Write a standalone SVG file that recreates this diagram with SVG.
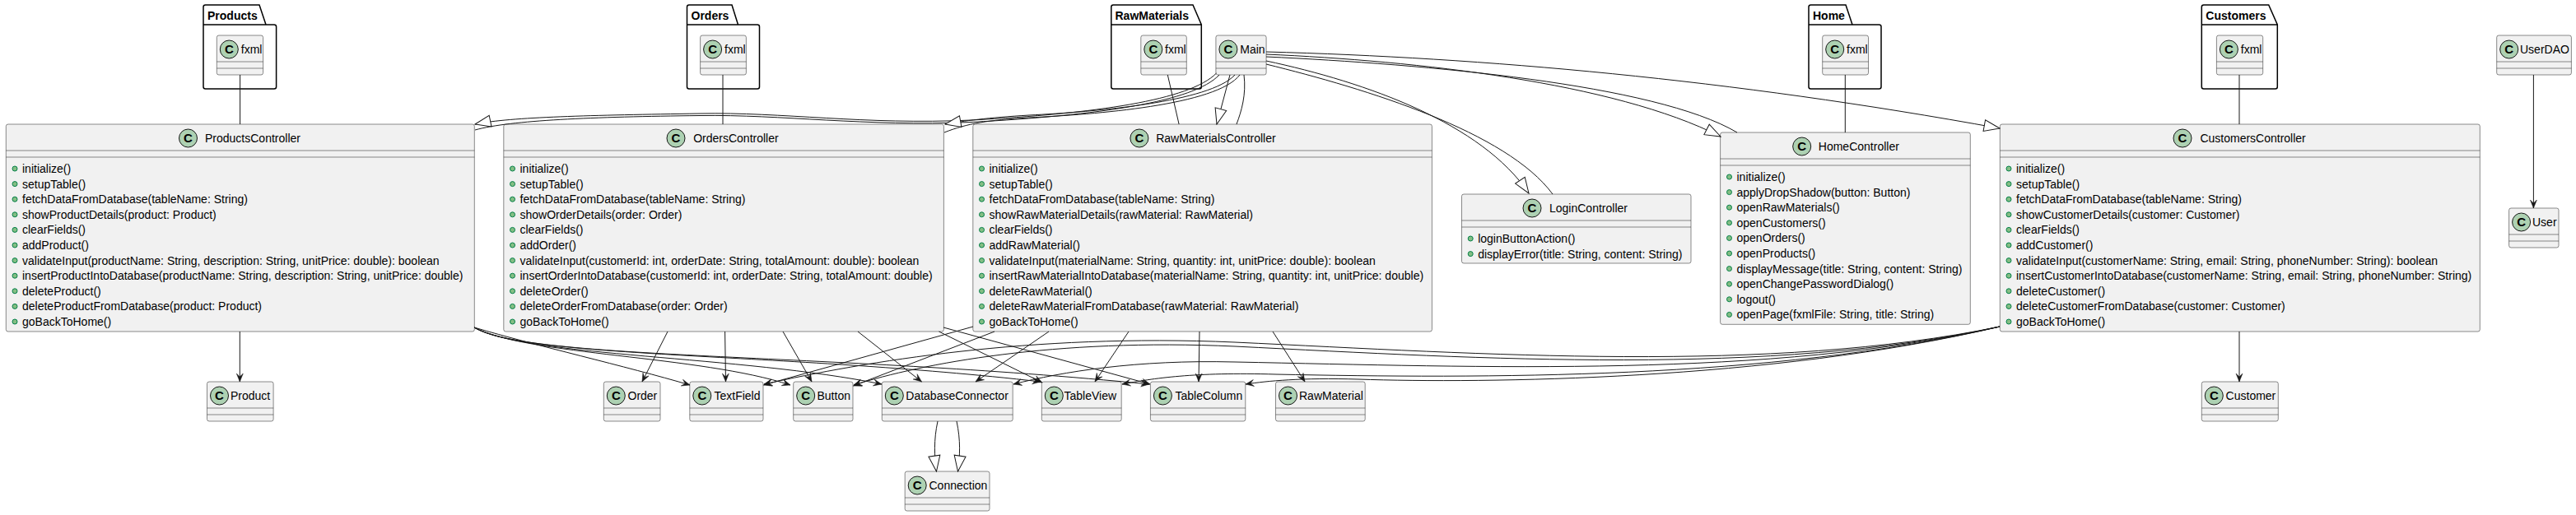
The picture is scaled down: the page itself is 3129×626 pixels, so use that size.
<svg xmlns="http://www.w3.org/2000/svg" width="3129" height="626" viewBox="0 0 3129 626">
<style>
text{font-family:'Liberation Sans',Arial,sans-serif;font-size:14px;fill:#000}
.box{fill:#F1F1F1;stroke:#181818;stroke-width:0.5}
.sep{stroke:#181818;stroke-width:0.5}
.ci{fill:#ADD1B2;stroke:#181818;stroke-width:1}
.C{font-weight:bold;font-size:15px;text-anchor:middle}
.bul{fill:#84BE84;stroke:#038048;stroke-width:1}
.pkg{fill:none;stroke:#000;stroke-width:1.5}
.pn{font-weight:bold}
.e{fill:none;stroke:#181818;stroke-width:1}
.d{marker-end:url(#dep)}
.x{marker-end:url(#ext)}
</style>
<defs>
<marker id="dep" viewBox="-11 -5 12 10" refX="0" refY="0" markerWidth="12" markerHeight="10" orient="auto" markerUnits="userSpaceOnUse"><path d="M0,0 L-10,-4 L-6,0 L-10,4 Z" fill="#181818" stroke="#181818" stroke-width="0.5"/></marker>
<marker id="ext" viewBox="-20 -9 21 18" refX="0" refY="0" markerWidth="21" markerHeight="18" orient="auto" markerUnits="userSpaceOnUse"><path d="M0,0 L-19,-7 L-19,7 Z" fill="#FFFFFF" stroke="#181818" stroke-width="1"/></marker>
</defs>
<rect width="3129" height="626" fill="#FFFFFF"/>

<!-- packages -->
<g id="pkg-Products">
<path class="pkg" d="M247,8.5 Q247,6 249.5,6 L315,6 L323,30 L333,30 Q335.6,30 335.6,32.5 L335.6,105.5 Q335.6,108 333,108 L249.5,108 Q247,108 247,105.5 Z M247,30 L323,30"/>
<text class="pn" x="252" y="23.5">Products</text>
</g>
<g id="pkg-Orders">
<path class="pkg" d="M834.5,8.5 Q834.5,6 837,6 L889,6 L896.5,30 L920,30 Q922.5,30 922.5,32.5 L922.5,105.5 Q922.5,108 920,108 L837,108 Q834.5,108 834.5,105.5 Z M834.5,30 L896.5,30"/>
<text class="pn" x="839.5" y="23.5">Orders</text>
</g>
<g id="pkg-RawMaterials">
<path class="pkg" d="M1349.8,8.5 Q1349.8,6 1352.3,6 L1449,6 L1459.3,30 L1459.3,105.5 Q1459.3,108 1456.8,108 L1352.3,108 Q1349.8,108 1349.8,105.5 Z M1349.8,30 L1459.3,30"/>
<text class="pn" x="1354.5" y="23.5">RawMaterials</text>
</g>
<g id="pkg-Home">
<path class="pkg" d="M2197,8.5 Q2197,6 2199.5,6 L2242,6 L2250,30 L2282.5,30 Q2285,30 2285,32.5 L2285,105.5 Q2285,108 2282.5,108 L2199.5,108 Q2197,108 2197,105.5 Z M2197,30 L2250,30"/>
<text class="pn" x="2202" y="23.5">Home</text>
</g>
<g id="pkg-Customers">
<path class="pkg" d="M2674.3,8.5 Q2674.3,6 2676.8,6 L2755.7,6 L2766.3,30 L2766.3,105.5 Q2766.3,108 2763.8,108 L2676.8,108 Q2674.3,108 2674.3,105.5 Z M2674.3,30 L2766.3,30"/>
<text class="pn" x="2679.3" y="23.5">Customers</text>
</g>

<!-- small top classes -->
<g id="Products.fxml"><rect class="box" x="263.3" y="43" width="56.3" height="48" rx="2.5"/><circle class="ci" cx="278.3" cy="60" r="11"/><text class="C" x="278.3" y="65.3">C</text><text x="292.8" y="65">fxml</text><path class="sep" d="M263.3,75 H319.6 M263.3,83 H319.6"/></g>
<g id="Orders.fxml"><rect class="box" x="850.6" y="43" width="55.8" height="48" rx="2.5"/><circle class="ci" cx="865.6" cy="60" r="11"/><text class="C" x="865.6" y="65.3">C</text><text x="880" y="65">fxml</text><path class="sep" d="M850.6,75 H906.4 M850.6,83 H906.4"/></g>
<g id="RawMaterials.fxml"><rect class="box" x="1385.8" y="43" width="55.5" height="48" rx="2.5"/><circle class="ci" cx="1400.8" cy="60" r="11"/><text class="C" x="1400.8" y="65.3">C</text><text x="1415" y="65">fxml</text><path class="sep" d="M1385.8,75 H1441.3 M1385.8,83 H1441.3"/></g>
<g id="Main"><rect class="box" x="1476.9" y="43" width="61.2" height="48" rx="2.5"/><circle class="ci" cx="1491.9" cy="60" r="11"/><text class="C" x="1491.9" y="65.3">C</text><text x="1506.3" y="65">Main</text><path class="sep" d="M1476.9,75 H1538.1 M1476.9,83 H1538.1"/></g>
<g id="Home.fxml"><rect class="box" x="2213.7" y="43" width="55.8" height="48" rx="2.5"/><circle class="ci" cx="2228.7" cy="60" r="11"/><text class="C" x="2228.7" y="65.3">C</text><text x="2243" y="65">fxml</text><path class="sep" d="M2213.7,75 H2269.5 M2213.7,83 H2269.5"/></g>
<g id="Customers.fxml"><rect class="box" x="2692.4" y="43" width="56.3" height="48" rx="2.5"/><circle class="ci" cx="2707.4" cy="60" r="11"/><text class="C" x="2707.4" y="65.3">C</text><text x="2721.8" y="65">fxml</text><path class="sep" d="M2692.4,75 H2748.7 M2692.4,83 H2748.7"/></g>
<g id="UserDAO"><rect class="box" x="3032.7" y="43" width="90.7" height="48" rx="2.5"/><circle class="ci" cx="3047.7" cy="60" r="11"/><text class="C" x="3047.7" y="65.3">C</text><text x="3061" y="65">UserDAO</text><path class="sep" d="M3032.7,75 H3123.4 M3032.7,83 H3123.4"/></g>
<g id="User"><rect class="box" x="3047.6" y="253" width="60.4" height="48" rx="2.5"/><circle class="ci" cx="3062.6" cy="270" r="11"/><text class="C" x="3062.6" y="275.3">C</text><text x="3076" y="275">User</text><path class="sep" d="M3047.6,285 H3108 M3047.6,293 H3108"/></g>

<!-- ProductsController -->
<g id="ProductsController">
<rect class="box" x="7.3" y="151" width="569" height="252" rx="2.5"/>
<circle class="ci" cx="228.5" cy="168" r="11"/><text class="C" x="228.5" y="173.3">C</text>
<text x="249" y="173">ProductsController</text>
<path class="sep" d="M7.3,183 H576.3 M7.3,191 H576.3"/>
<g><circle class="bul" cx="18" cy="205" r="3"/><circle class="bul" cx="18" cy="223.6" r="3"/><circle class="bul" cx="18" cy="242.2" r="3"/><circle class="bul" cx="18" cy="260.8" r="3"/><circle class="bul" cx="18" cy="279.4" r="3"/><circle class="bul" cx="18" cy="298" r="3"/><circle class="bul" cx="18" cy="316.6" r="3"/><circle class="bul" cx="18" cy="335.2" r="3"/><circle class="bul" cx="18" cy="353.8" r="3"/><circle class="bul" cx="18" cy="372.4" r="3"/><circle class="bul" cx="18" cy="391" r="3"/></g>
<text x="27" y="210">initialize()</text>
<text x="27" y="228.6">setupTable()</text>
<text x="27" y="247.2">fetchDataFromDatabase(tableName: String)</text>
<text x="27" y="265.8">showProductDetails(product: Product)</text>
<text x="27" y="284.4">clearFields()</text>
<text x="27" y="303">addProduct()</text>
<text x="27" y="321.6">validateInput(productName: String, description: String, unitPrice: double): boolean</text>
<text x="27" y="340.2">insertProductIntoDatabase(productName: String, description: String, unitPrice: double)</text>
<text x="27" y="358.8">deleteProduct()</text>
<text x="27" y="377.4">deleteProductFromDatabase(product: Product)</text>
<text x="27" y="396">goBackToHome()</text>
</g>

<!-- OrdersController -->
<g id="OrdersController">
<rect class="box" x="611.8" y="151" width="534.6" height="252" rx="2.5"/>
<circle class="ci" cx="821" cy="168" r="11"/><text class="C" x="821" y="173.3">C</text>
<text x="842.2" y="173">OrdersController</text>
<path class="sep" d="M611.8,183 H1146.4 M611.8,191 H1146.4"/>
<g><circle class="bul" cx="622.5" cy="205" r="3"/><circle class="bul" cx="622.5" cy="223.6" r="3"/><circle class="bul" cx="622.5" cy="242.2" r="3"/><circle class="bul" cx="622.5" cy="260.8" r="3"/><circle class="bul" cx="622.5" cy="279.4" r="3"/><circle class="bul" cx="622.5" cy="298" r="3"/><circle class="bul" cx="622.5" cy="316.6" r="3"/><circle class="bul" cx="622.5" cy="335.2" r="3"/><circle class="bul" cx="622.5" cy="353.8" r="3"/><circle class="bul" cx="622.5" cy="372.4" r="3"/><circle class="bul" cx="622.5" cy="391" r="3"/></g>
<text x="631.5" y="210">initialize()</text>
<text x="631.5" y="228.6">setupTable()</text>
<text x="631.5" y="247.2">fetchDataFromDatabase(tableName: String)</text>
<text x="631.5" y="265.8">showOrderDetails(order: Order)</text>
<text x="631.5" y="284.4">clearFields()</text>
<text x="631.5" y="303">addOrder()</text>
<text x="631.5" y="321.6">validateInput(customerId: int, orderDate: String, totalAmount: double): boolean</text>
<text x="631.5" y="340.2">insertOrderIntoDatabase(customerId: int, orderDate: String, totalAmount: double)</text>
<text x="631.5" y="358.8">deleteOrder()</text>
<text x="631.5" y="377.4">deleteOrderFromDatabase(order: Order)</text>
<text x="631.5" y="396">goBackToHome()</text>
</g>

<!-- RawMaterialsController -->
<g id="RawMaterialsController">
<rect class="box" x="1181.8" y="151" width="557.6" height="252" rx="2.5"/>
<circle class="ci" cx="1383.9" cy="168" r="11"/><text class="C" x="1383.9" y="173.3">C</text>
<text x="1404.2" y="173">RawMaterialsController</text>
<path class="sep" d="M1181.8,183 H1739.4 M1181.8,191 H1739.4"/>
<g><circle class="bul" cx="1192.5" cy="205" r="3"/><circle class="bul" cx="1192.5" cy="223.6" r="3"/><circle class="bul" cx="1192.5" cy="242.2" r="3"/><circle class="bul" cx="1192.5" cy="260.8" r="3"/><circle class="bul" cx="1192.5" cy="279.4" r="3"/><circle class="bul" cx="1192.5" cy="298" r="3"/><circle class="bul" cx="1192.5" cy="316.6" r="3"/><circle class="bul" cx="1192.5" cy="335.2" r="3"/><circle class="bul" cx="1192.5" cy="353.8" r="3"/><circle class="bul" cx="1192.5" cy="372.4" r="3"/><circle class="bul" cx="1192.5" cy="391" r="3"/></g>
<text x="1201.5" y="210">initialize()</text>
<text x="1201.5" y="228.6">setupTable()</text>
<text x="1201.5" y="247.2">fetchDataFromDatabase(tableName: String)</text>
<text x="1201.5" y="265.8">showRawMaterialDetails(rawMaterial: RawMaterial)</text>
<text x="1201.5" y="284.4">clearFields()</text>
<text x="1201.5" y="303">addRawMaterial()</text>
<text x="1201.5" y="321.6">validateInput(materialName: String, quantity: int, unitPrice: double): boolean</text>
<text x="1201.5" y="340.2">insertRawMaterialIntoDatabase(materialName: String, quantity: int, unitPrice: double)</text>
<text x="1201.5" y="358.8">deleteRawMaterial()</text>
<text x="1201.5" y="377.4">deleteRawMaterialFromDatabase(rawMaterial: RawMaterial)</text>
<text x="1201.5" y="396">goBackToHome()</text>
</g>

<!-- LoginController -->
<g id="LoginController">
<rect class="box" x="1775.5" y="236" width="278.5" height="84" rx="2.5"/>
<circle class="ci" cx="1861" cy="253" r="11"/><text class="C" x="1861" y="258.3">C</text>
<text x="1882" y="258">LoginController</text>
<path class="sep" d="M1775.5,268 H2054 M1775.5,276 H2054"/>
<circle class="bul" cx="1786.2" cy="290" r="3"/><circle class="bul" cx="1786.2" cy="308.6" r="3"/>
<text x="1795.2" y="295">loginButtonAction()</text>
<text x="1795.2" y="313.6">displayError(title: String, content: String)</text>
</g>

<!-- HomeController -->
<g id="HomeController">
<rect class="box" x="2089.6" y="161" width="303.7" height="233.3" rx="2.5"/>
<circle class="ci" cx="2188.7" cy="178" r="11"/><text class="C" x="2188.7" y="183.3">C</text>
<text x="2208.8" y="183">HomeController</text>
<path class="sep" d="M2089.6,193 H2393.3 M2089.6,201 H2393.3"/>
<g><circle class="bul" cx="2100.5" cy="215" r="3"/><circle class="bul" cx="2100.5" cy="233.6" r="3"/><circle class="bul" cx="2100.5" cy="252.2" r="3"/><circle class="bul" cx="2100.5" cy="270.8" r="3"/><circle class="bul" cx="2100.5" cy="289.4" r="3"/><circle class="bul" cx="2100.5" cy="308" r="3"/><circle class="bul" cx="2100.5" cy="326.6" r="3"/><circle class="bul" cx="2100.5" cy="345.2" r="3"/><circle class="bul" cx="2100.5" cy="363.8" r="3"/><circle class="bul" cx="2100.5" cy="382.4" r="3"/></g>
<text x="2109.5" y="220">initialize()</text>
<text x="2109.5" y="238.6">applyDropShadow(button: Button)</text>
<text x="2109.5" y="257.2">openRawMaterials()</text>
<text x="2109.5" y="275.8">openCustomers()</text>
<text x="2109.5" y="294.4">openOrders()</text>
<text x="2109.5" y="313">openProducts()</text>
<text x="2109.5" y="331.6">displayMessage(title: String, content: String)</text>
<text x="2109.5" y="350.2">openChangePasswordDialog()</text>
<text x="2109.5" y="368.8">logout()</text>
<text x="2109.5" y="387.4">openPage(fxmlFile: String, title: String)</text>
</g>

<!-- CustomersController -->
<g id="CustomersController">
<rect class="box" x="2429.3" y="151" width="583" height="252" rx="2.5"/>
<circle class="ci" cx="2651" cy="168" r="11"/><text class="C" x="2651" y="173.3">C</text>
<text x="2672.4" y="173">CustomersController</text>
<path class="sep" d="M2429.3,183 H3012.3 M2429.3,191 H3012.3"/>
<g><circle class="bul" cx="2440" cy="205" r="3"/><circle class="bul" cx="2440" cy="223.6" r="3"/><circle class="bul" cx="2440" cy="242.2" r="3"/><circle class="bul" cx="2440" cy="260.8" r="3"/><circle class="bul" cx="2440" cy="279.4" r="3"/><circle class="bul" cx="2440" cy="298" r="3"/><circle class="bul" cx="2440" cy="316.6" r="3"/><circle class="bul" cx="2440" cy="335.2" r="3"/><circle class="bul" cx="2440" cy="353.8" r="3"/><circle class="bul" cx="2440" cy="372.4" r="3"/><circle class="bul" cx="2440" cy="391" r="3"/></g>
<text x="2449" y="210">initialize()</text>
<text x="2449" y="228.6">setupTable()</text>
<text x="2449" y="247.2">fetchDataFromDatabase(tableName: String)</text>
<text x="2449" y="265.8">showCustomerDetails(customer: Customer)</text>
<text x="2449" y="284.4">clearFields()</text>
<text x="2449" y="303">addCustomer()</text>
<text x="2449" y="321.6">validateInput(customerName: String, email: String, phoneNumber: String): boolean</text>
<text x="2449" y="340.2">insertCustomerIntoDatabase(customerName: String, email: String, phoneNumber: String)</text>
<text x="2449" y="358.8">deleteCustomer()</text>
<text x="2449" y="377.4">deleteCustomerFromDatabase(customer: Customer)</text>
<text x="2449" y="396">goBackToHome()</text>
</g>

<!-- bottom classes -->
<g id="Product"><rect class="box" x="251.5" y="464" width="80.6" height="48" rx="2.5"/><circle class="ci" cx="266.5" cy="481" r="11"/><text class="C" x="266.5" y="486.3">C</text><text x="280" y="486">Product</text><path class="sep" d="M251.5,496 H332.1 M251.5,504 H332.1"/></g>
<g id="Order"><rect class="box" x="733.3" y="464" width="68.7" height="48" rx="2.5"/><circle class="ci" cx="748.3" cy="481" r="11"/><text class="C" x="748.3" y="486.3">C</text><text x="762.5" y="486">Order</text><path class="sep" d="M733.3,496 H802 M733.3,504 H802"/></g>
<g id="TextField"><rect class="box" x="837.8" y="464" width="89.2" height="48" rx="2.5"/><circle class="ci" cx="852.8" cy="481" r="11"/><text class="C" x="852.8" y="486.3">C</text><text x="867.5" y="486">TextField</text><path class="sep" d="M837.8,496 H927 M837.8,504 H927"/></g>
<g id="Button"><rect class="box" x="963.7" y="464" width="72.3" height="48" rx="2.5"/><circle class="ci" cx="978.7" cy="481" r="11"/><text class="C" x="978.7" y="486.3">C</text><text x="992.5" y="486">Button</text><path class="sep" d="M963.7,496 H1036 M963.7,504 H1036"/></g>
<g id="DatabaseConnector"><rect class="box" x="1071.3" y="464" width="158.9" height="48" rx="2.5"/><circle class="ci" cx="1086.3" cy="481" r="11"/><text class="C" x="1086.3" y="486.3">C</text><text x="1100.3" y="486">DatabaseConnector</text><path class="sep" d="M1071.3,496 H1230.2 M1071.3,504 H1230.2"/></g>
<g id="TableView"><rect class="box" x="1265.3" y="464" width="96.9" height="48" rx="2.5"/><circle class="ci" cx="1280.3" cy="481" r="11"/><text class="C" x="1280.3" y="486.3">C</text><text x="1292.5" y="486">TableView</text><path class="sep" d="M1265.3,496 H1362.2 M1265.3,504 H1362.2"/></g>
<g id="TableColumn"><rect class="box" x="1397.4" y="464" width="115.4" height="48" rx="2.5"/><circle class="ci" cx="1412.4" cy="481" r="11"/><text class="C" x="1412.4" y="486.3">C</text><text x="1427.5" y="486">TableColumn</text><path class="sep" d="M1397.4,496 H1512.8 M1397.4,504 H1512.8"/></g>
<g id="RawMaterial"><rect class="box" x="1549.5" y="464" width="108.7" height="48" rx="2.5"/><circle class="ci" cx="1564.5" cy="481" r="11"/><text class="C" x="1564.5" y="486.3">C</text><text x="1578" y="486">RawMaterial</text><path class="sep" d="M1549.5,496 H1658.2 M1549.5,504 H1658.2"/></g>
<g id="Customer"><rect class="box" x="2674.3" y="464" width="93" height="48" rx="2.5"/><circle class="ci" cx="2689.3" cy="481" r="11"/><text class="C" x="2689.3" y="486.3">C</text><text x="2703.6" y="486">Customer</text><path class="sep" d="M2674.3,496 H2767.3 M2674.3,504 H2767.3"/></g>
<g id="Connection"><rect class="box" x="1099.2" y="573" width="102.8" height="48" rx="2.5"/><circle class="ci" cx="1114.2" cy="590" r="11"/><text class="C" x="1114.2" y="595.3">C</text><text x="1128.5" y="595">Connection</text><path class="sep" d="M1099.2,605 H1202 M1099.2,613 H1202"/></g>

<!-- connectors -->
<g id="connectors">
<!-- fxml links -->
<path class="e" d="M291.6,91 L291.6,151"/>
<path class="e" d="M878,91 L878,151"/>
<path class="e" d="M1418.3,91 L1432.1,151"/>
<path class="e" d="M2241.3,91 L2241.3,161"/>
<path class="e" d="M2720,91 L2720,151"/>
<!-- Main links -->
<path class="e x" d="M1494,91 L1478,151"/>
<path class="e" d="M1511,91 C1514,115 1508,135 1502,151"/>
<path class="e x" d="M1477.5,89 C1445,122 1330,138 1180,146 C1050,152 950,136 850,138 C720,140 620,142 577,151"/>
<path class="e" d="M1481,91 C1450,124 1335,140 1180,148.5 C1050,154 950,139 850,140.5 C720,142 620,146 577,158"/>
<path class="e x" d="M1500,91 C1470,124 1330,136 1250,140 C1200,143 1170,147 1148,151"/>
<path class="e" d="M1506,91 C1478,128 1330,139 1250,143 C1200,146 1175,150 1147,161"/>
<path class="e x" d="M1538,66 C1720,74 1960,100 2090,166"/>
<path class="e" d="M1538,69 C1730,78 2010,102 2110,161"/>
<path class="e x" d="M1538,63 C1800,70 2100,96 2429,156"/>
<path class="e x" d="M1538,74 C1660,100 1800,150 1857,235"/>
<path class="e" d="M1538,78 C1660,108 1830,160 1886,236"/>
<!-- ProductsController deps -->
<path class="e d" d="M291.3,403 L291.3,464"/>
<path class="e d" d="M576,398 C650,420 760,445 838,468"/>
<path class="e d" d="M576,398 C640,432 850,432 960,468"/>
<path class="e d" d="M576,398 C640,434 900,432 1071,467"/>
<path class="e d" d="M576,398 C640,436 950,428 1264,464"/>
<path class="e d" d="M576,398 C640,438 1000,428 1396,467"/>
<!-- OrdersController deps -->
<path class="e d" d="M811,403 L780,464"/>
<path class="e d" d="M880.6,403 L881.5,464"/>
<path class="e d" d="M951,403 L986,464"/>
<path class="e d" d="M1042,403 L1119.5,464"/>
<path class="e d" d="M1140.5,403 L1266,465"/>
<path class="e d" d="M1146,398 L1397,467"/>
<!-- RawMaterialsController deps -->
<path class="e d" d="M1182,397 L927.5,468"/>
<path class="e d" d="M1208,403 L1036.5,469"/>
<path class="e d" d="M1274,403 L1185,464"/>
<path class="e d" d="M1371,403 L1330,464"/>
<path class="e d" d="M1457,403 L1456,464"/>
<path class="e d" d="M1546,403 L1585,464"/>
<!-- CustomersController deps -->
<path class="e d" d="M2720,403 L2720,464"/>
<path class="e d" d="M2429,397 C2150,455 1800,430 1500,416 C1250,405 1050,440 928,467"/>
<path class="e d" d="M2429,397 C2150,458 1800,436 1500,421 C1280,411 1120,442 1037,468"/>
<path class="e d" d="M2429,397 C2150,460 1800,446 1500,440 C1380,437 1290,452 1231,467"/>
<path class="e d" d="M2429,397 C2150,462 1800,460 1550,455 C1450,452 1400,460 1363,467"/>
<path class="e d" d="M2429,397 C2150,463 1800,466 1650,461 C1580,459 1540,463 1513,467"/>
<!-- others -->
<path class="e d" d="M3077.4,91 L3077.4,253"/>
<path class="e x" d="M1139,512 C1134,535 1135,555 1137.5,573"/>
<path class="e x" d="M1162,512 C1167,535 1166,555 1163.5,573"/>
</g>
</svg>
